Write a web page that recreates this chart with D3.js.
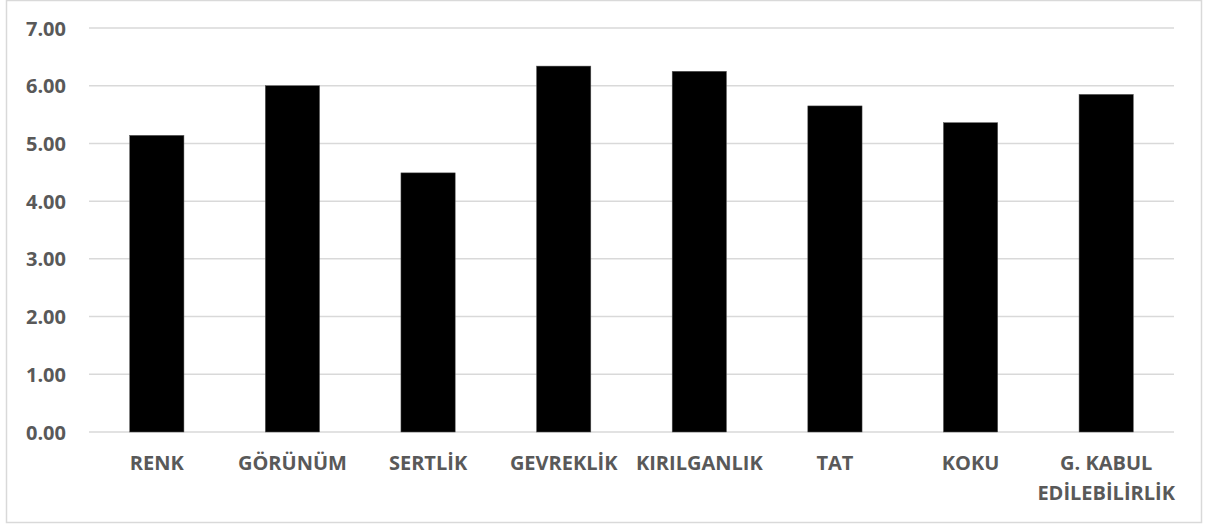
<!DOCTYPE html>
<html>
<head>
<meta charset="utf-8">
<script src="https://cdn.jsdelivr.net/npm/d3@7"></script>
<style>
  body { margin: 0; background: #fff; }
  text { font-family: "Open Sans", sans-serif; font-weight: bold; fill: #595959; }
</style>
</head>
<body>
<svg id="chart" width="1227" height="526"></svg>
<script>
// category names (multi-line labels split by \n)
var categories = ["RENK", "GÖRÜNÜM", "SERTLİK", "GEVREKLİK", "KIRILGANLIK", "TAT", "KOKU", "G. KABUL\nEDİLEBİLİRLİK"];
var values = [5.14, 6.00, 4.49, 6.34, 6.25, 5.65, 5.36, 5.85];
var yTicks = [0, 1, 2, 3, 4, 5, 6, 7];

var svg = d3.select("#chart");

// outer chart border
svg.append("rect")
    .attr("x", 6.5).attr("y", 0.5)
    .attr("width", 1195).attr("height", 522)
    .attr("fill", "none")
    .attr("stroke", "#d9d9d9")
    .attr("stroke-width", 1.5);

var plotLeft = 89, plotRight = 1174, plotTop = 28, plotBottom = 432;

var x = d3.scaleBand()
    .domain(categories)
    .range([plotLeft, plotRight])
    .paddingInner(0.6)
    .paddingOuter(0.3);

var y = d3.scaleLinear()
    .domain([0, 7])
    .range([plotBottom, plotTop]);

// gridlines
svg.append("g")
    .selectAll("line")
    .data(yTicks)
    .enter().append("line")
    .attr("x1", plotLeft).attr("x2", plotRight)
    .attr("y1", function(d){ return y(d); })
    .attr("y2", function(d){ return y(d); })
    .attr("stroke", "#d9d9d9")
    .attr("stroke-width", 1.5);

// y labels
var yAxis = d3.axisLeft(y).tickValues(yTicks).tickFormat(d3.format(".2f")).tickSize(0).tickPadding(0);
var yg = svg.append("g").attr("transform", "translate(66,0)").call(yAxis);
yg.select(".domain").remove();
yg.selectAll("text").attr("font-size", 20).attr("font-family", null).attr("fill", null).attr("dy", "0.35em");

// bars
svg.append("g")
    .selectAll("rect")
    .data(values)
    .enter().append("rect")
    .attr("x", function(d, i){ return x(categories[i]); })
    .attr("y", function(d){ return y(d); })
    .attr("width", x.bandwidth())
    .attr("height", function(d){ return y(0) - y(d); })
    .attr("fill", "#000")
    .attr("stroke", "#595959")
    .attr("stroke-width", 0.5);

// x labels
var xl = svg.append("g")
    .selectAll("text")
    .data(categories)
    .enter().append("text")
    .attr("text-anchor", "middle")
    .attr("font-size", 20)
    .attr("x", function(d){ return x(d) + x.bandwidth() / 2; });

xl.each(function(d){
    var lines = d.split("\n");
    var t = d3.select(this);
    lines.forEach(function(s, k){
        t.append("tspan")
            .attr("x", x(d) + x.bandwidth() / 2)
            .attr("y", 470 + k * 30)
            .text(s);
    });
});
</script>
</body>
</html>
